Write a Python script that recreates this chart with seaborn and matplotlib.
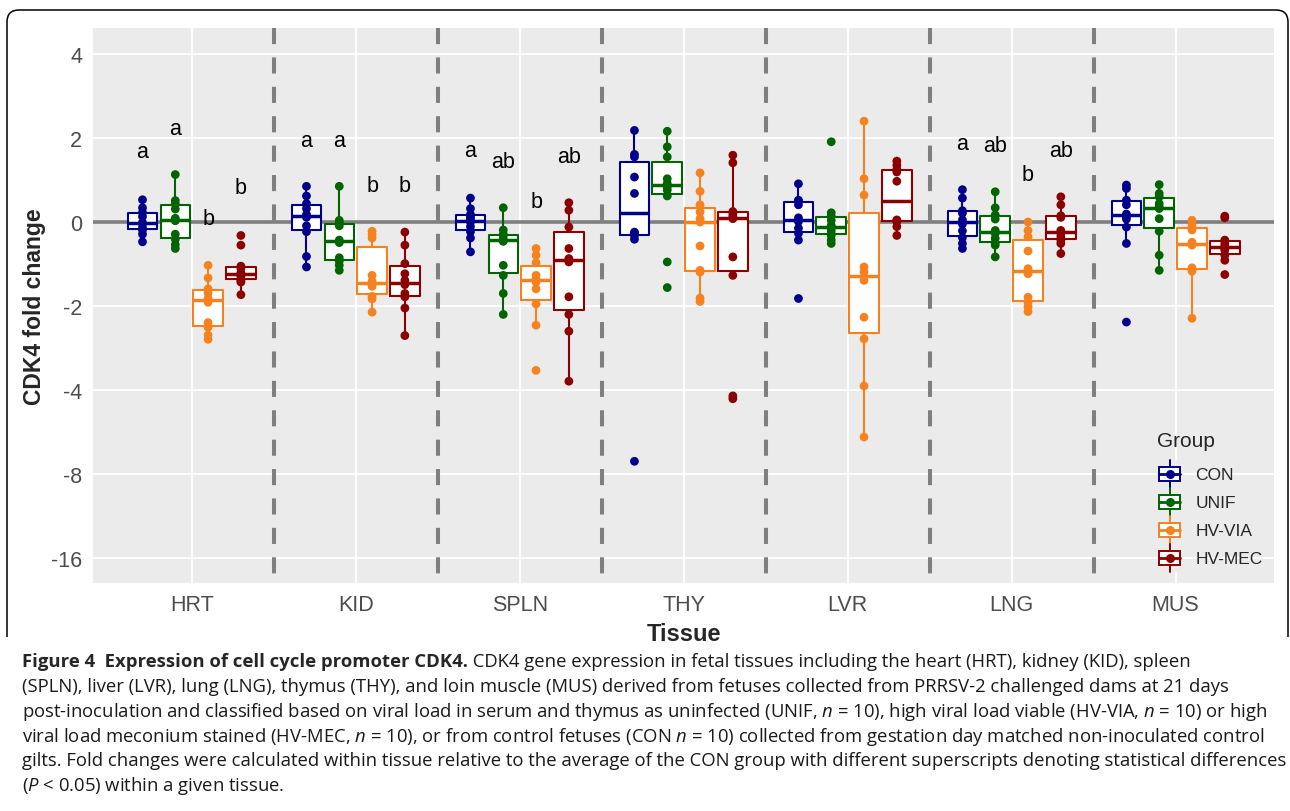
import numpy as np
import pandas as pd
import matplotlib
matplotlib.use('Agg')
import matplotlib.pyplot as plt
import seaborn as sns
from matplotlib.ticker import FixedLocator, FuncFormatter
from matplotlib.legend_handler import HandlerBase
from matplotlib.patches import Rectangle, PathPatch
from matplotlib.lines import Line2D
from matplotlib.path import Path

tissues = ['HRT', 'KID', 'SPLN', 'THY', 'LVR', 'LNG', 'MUS']
groups = ['CON', 'UNIF', 'HV-VIA', 'HV-MEC']
colors = ['#00008B', '#006400', '#F5821F', '#8B0000']

# CDK4 fold change, one list per group (CON, UNIF, HV-VIA, HV-MEC)
hrt = [[-0.48, -0.30, -0.20, -0.15, -0.06, -0.02, 0.12, 0.22, 0.33, 0.52],
       [-0.64, -0.55, -0.42, -0.30, 0.02, 0.08, 0.30, 0.42, 0.50, 1.12],
       [-2.64, -2.55, -2.39, -2.30, -1.92, -1.83, -1.70, -1.60, -1.34, -1.04],
       [-1.74, -1.44, -1.40, -1.30, -1.26, -1.22, -1.12, -1.06, -0.56, -0.33]]
kid = [[-1.08, -0.83, -0.24, -0.10, 0.10, 0.17, 0.31, 0.43, 0.61, 0.84],
       [-1.16, -1.04, -0.94, -0.86, -0.50, -0.44, -0.10, -0.03, 0.03, 0.84],
       [-2.11, -1.84, -1.78, -1.54, -1.48, -1.42, -1.28, -0.39, -0.31, -0.23],
       [-2.56, -2.04, -1.79, -1.71, -1.50, -1.40, -1.24, -1.00, -0.56, -0.25]]
spln = [[-0.72, -0.39, -0.24, -0.12, -0.01, 0.06, 0.11, 0.17, 0.31, 0.56],
        [-2.15, -1.71, -1.28, -1.04, -0.47, -0.42, -0.34, -0.30, -0.20, 0.33],
        [-3.41, -2.35, -1.96, -1.60, -1.44, -1.36, -1.28, -0.98, -0.80, -0.64],
        [-3.73, -2.47, -2.15, -1.79, -0.96, -0.88, -0.64, -0.13, 0.27, 0.45]]
thy = [[-7.22, -0.42, -0.33, -0.28, -0.25, 0.67, 1.06, 1.54, 1.60, 2.17],
       [-1.57, -0.96, 0.61, 0.75, 0.82, 0.91, 1.02, 1.54, 1.78, 2.15],
       [-1.90, -1.82, -1.20, -1.16, -0.58, -0.01, 0.07, 0.23, 0.40, 0.72, 1.16],
       [-4.31, -4.21, -1.28, -0.84, 0.07, 0.12, 0.18, 0.24, 1.40, 1.58]]
lvr = [[-1.83, -0.44, -0.28, -0.16, 0.00, 0.09, 0.40, 0.49, 0.51, 0.90],
       [-0.52, -0.44, -0.33, -0.23, -0.16, -0.09, 0.03, 0.13, 0.21, 1.90],
       [-5.91, -3.88, -2.63, -2.20, -1.40, -1.20, -1.08, 0.63, 1.02, 2.39],
       [-0.33, -0.12, 0.00, 0.02, 0.04, 0.96, 1.18, 1.24, 1.34, 1.44]]
lng = [[-0.64, -0.52, -0.38, -0.22, -0.06, 0.04, 0.20, 0.26, 0.56, 0.76],
       [-0.84, -0.56, -0.50, -0.40, -0.28, -0.21, 0.06, 0.16, 0.33, 0.71],
       [-2.10, -2.02, -1.92, -1.80, -1.24, -1.12, -0.70, -0.36, -0.21, -0.01],
       [-0.76, -0.52, -0.44, -0.36, -0.28, -0.21, 0.10, 0.14, 0.40, 0.59]]
mus = [[-2.29, -0.52, -0.13, 0.06, 0.12, 0.18, 0.40, 0.51, 0.79, 0.87],
       [-1.16, -0.80, -0.23, 0.07, 0.31, 0.35, 0.43, 0.59, 0.67, 0.88],
       [-2.22, -1.18, -1.15, -1.10, -0.56, -0.49, -0.20, -0.13, -0.05, 0.03],
       [-1.26, -0.92, -0.80, -0.68, -0.63, -0.58, -0.52, -0.44, 0.09, 0.13]]

# significance letters (tissue, letters per group, height in fold change)
letter_tissues = ['HRT', 'KID', 'SPLN', 'LNG']
letter_text = [['a', 'a', 'b', 'b'], ['a', 'a', 'b', 'b'],
               ['a', 'ab', 'b', 'ab'], ['a', 'ab', 'b', 'ab']]
letter_y = [[1.66, 2.21, 0.07, 0.80], [1.94, 1.94, 0.87, 0.87],
            [1.70, 1.44, 0.47, 1.54], [1.86, 1.80, 1.12, 1.70]]

y_ticks = [4, 2, 0, -2, -4, -8, -16]


# axis transform: linear above -2, log2 below
def fwd(v):
    v = np.asarray(v, dtype=float)
    return np.where(v >= -2, v / 2, -np.log2(np.maximum(-v, 2)))


def inv(t):
    return 2 * t if t >= -1 else -2 ** (-t)


rows = []
for tissue, vals in zip(tissues, [hrt, kid, spln, thy, lvr, lng, mus]):
    for g, v in zip(groups, vals):
        for x in v:
            rows.append((tissue, g, x))
df = pd.DataFrame(rows, columns=['Tissue', 'Group', 'fc'])
df['t'] = fwd(df['fc'])

sns.set_style('darkgrid', {'axes.facecolor': '#EBEBEB', 'grid.color': 'white'})
plt.rcParams['font.family'] = ['Liberation Sans', 'DejaVu Sans']
cap_family = ['Liberation Sans Narrow', 'DejaVu Sans Condensed', 'Open Sans', 'DejaVu Sans']
plt.rcParams['mathtext.fontset'] = 'custom'
plt.rcParams['mathtext.it'] = 'Open Sans:italic'

W, H = 1290, 812
fig = plt.figure(figsize=(W / 100, H / 100), dpi=100)
ax = fig.add_axes([93.3 / W, 1 - 584 / H, (1274 - 93.3) / W, (584 - 29.3) / H])

pal = dict(zip(groups, colors))
common = dict(data=df, x='Tissue', y='t', hue='Group', order=tissues,
              hue_order=groups, ax=ax, legend=False)

# white box fill, then coloured outlines on top
sns.boxplot(**common, palette={g: 'white' for g in groups}, linecolor='white',
            linewidth=0, width=0.8, gap=0.1, showfliers=False, saturation=1)
sns.boxplot(**common, palette=pal, fill=False, linewidth=1.5, width=0.8, gap=0.1,
            showfliers=False, saturation=1, medianprops={'linewidth': 2.5},
            capprops={'visible': False})
sns.stripplot(**common, palette=pal, dodge=True, jitter=False, size=6.3,
              linewidth=0, zorder=3)

ax.axhline(0, color='#7F7F7F', lw=2.6, zorder=1.5)
for xb in np.arange(0.5, 6.0, 1):
    ax.plot([xb, xb], [2.3, -4.3], color='#7F7F7F', lw=2.9, ls=(0, (4, 3.3)),
            zorder=1.6, solid_capstyle='butt')

offsets = [-0.3, -0.1, 0.1, 0.3]
for tissue, labs, ys in zip(letter_tissues, letter_text, letter_y):
    i = tissues.index(tissue)
    for off, s, yv in zip(offsets, labs, ys):
        ax.text(i + off, fwd(yv), s, ha='center', va='center', fontsize=15.5,
                color='black')

ax.set_xlim(-0.6, 6.6)
ax.set_ylim(-4.3, 2.3)
ax.yaxis.set_major_locator(FixedLocator(fwd(y_ticks)))
ax.yaxis.set_major_formatter(FuncFormatter(lambda t, p: f'{inv(t):g}'))
ax.set_axisbelow(True)
ax.grid(True, color='white', lw=1.3)
for sp in ax.spines.values():
    sp.set_visible(False)
ax.tick_params(length=4, width=1.1, color='#333333', labelcolor='#4D4D4D',
               labelsize=15.5, pad=4)
ax.set_xlabel('Tissue', fontsize=17, fontweight='bold')
ax.set_ylabel('CDK4 fold change', fontsize=16.5, fontweight='bold')
ax.xaxis.set_label_coords(0.5, -0.071)
ax.yaxis.set_label_coords(-0.040, 0.5)


class BoxKey(HandlerBase):
    def create_artists(self, legend, orig_handle, xdescent, ydescent, width,
                       height, fontsize, trans):
        c = orig_handle.get_color()
        x0, y0 = -xdescent, -ydescent
        xc, yc = x0 + width / 2, y0 + height / 2
        bg = Rectangle((x0, y0), width, height, facecolor='#EBEBEB',
                       edgecolor='none', transform=trans)
        box = Rectangle((x0 + 0.08 * width, y0 + 0.25 * height), 0.84 * width,
                        0.5 * height, facecolor='white', edgecolor=c, lw=1.4,
                        transform=trans)
        med = Line2D([x0 + 0.08 * width, x0 + 0.92 * width], [yc, yc], color=c,
                     lw=2.0, transform=trans)
        wt = Line2D([xc, xc], [y0 + 0.75 * height, y0 + height], color=c, lw=1.4,
                    transform=trans)
        wb = Line2D([xc, xc], [y0, y0 + 0.25 * height], color=c, lw=1.4,
                    transform=trans)
        dot = Line2D([xc], [yc], marker='o', ms=6.5, color=c, mec='none',
                     transform=trans)
        return [bg, box, med, wt, wb, dot]


handles = [Line2D([], [], color=c) for c in colors]
leg = ax.legend(handles, groups, handler_map={Line2D: BoxKey()}, title='Group',
                title_fontsize=15, fontsize=12.5, frameon=False, labelspacing=0,
                handlelength=1.45, handleheight=2.1, handletextpad=0.75,
                borderpad=0, borderaxespad=0, alignment='left', loc='upper left',
                bbox_to_anchor=(1157 / W, 1 - 432 / H),
                bbox_transform=fig.transFigure)
leg._legend_box.sep = 7

# rounded frame around the chart
fx = lambda x: x / W
fy = lambda y: 1 - y / H
verts = [(fx(7), fy(638)), (fx(7), fy(23)), (fx(7), fy(11)), (fx(19), fy(11)),
         (fx(1276), fy(11)), (fx(1288), fy(11)), (fx(1288), fy(23)),
         (fx(1288), fy(638))]
codes = [Path.MOVETO, Path.LINETO, Path.CURVE3, Path.CURVE3, Path.LINETO,
         Path.CURVE3, Path.CURVE3, Path.LINETO]
fig.patches.append(PathPatch(Path(verts, codes), fill=False, lw=1.1,
                             edgecolor='black', transform=fig.transFigure))

# caption
cap_bold = 'Figure 4  Expression of cell cycle promoter CDK4.'
cap_lines = [
    ' CDK4 gene expression in fetal tissues including the heart (HRT), kidney (KID), spleen',
    '(SPLN), liver (LVR), lung (LNG), thymus (THY), and loin muscle (MUS) derived from fetuses collected from PRRSV-2 challenged dams at 21 days',
    'post-inoculation and classified based on viral load in serum and thymus as uninfected (UNIF, $n$ = 10), high viral load viable (HV-VIA, $n$ = 10) or high',
    'viral load meconium stained (HV-MEC, $n$ = 10), or from control fetuses (CON $n$ = 10) collected from gestation day matched non-inoculated control',
    'gilts. Fold changes were calculated within tissue relative to the average of the CON group with different superscripts denoting statistical differences',
    '($P$ < 0.05) within a given tissue.',
]
baselines = [667, 692, 717, 742, 766, 791]
r = fig.canvas.get_renderer()
probe = fig.text(0, 0, cap_lines[4], fontsize=12, family=cap_family)
cap_size = 12 * 1256 / probe.get_window_extent(r).width
probe.remove()

tb = fig.text(fx(22), fy(baselines[0]), cap_bold, fontsize=cap_size,
              family=cap_family, fontweight='bold', va='baseline')
x_end = tb.get_window_extent(r).x1
fig.text(x_end / W, fy(baselines[0]), cap_lines[0], fontsize=cap_size,
         family=cap_family, va='baseline', color='#1a1a1a')
for s, yb in zip(cap_lines[1:], baselines[1:]):
    fig.text(fx(22), fy(yb), s, fontsize=cap_size, family=cap_family,
             va='baseline', color='#1a1a1a')

fig.savefig('out.png', dpi=100)
